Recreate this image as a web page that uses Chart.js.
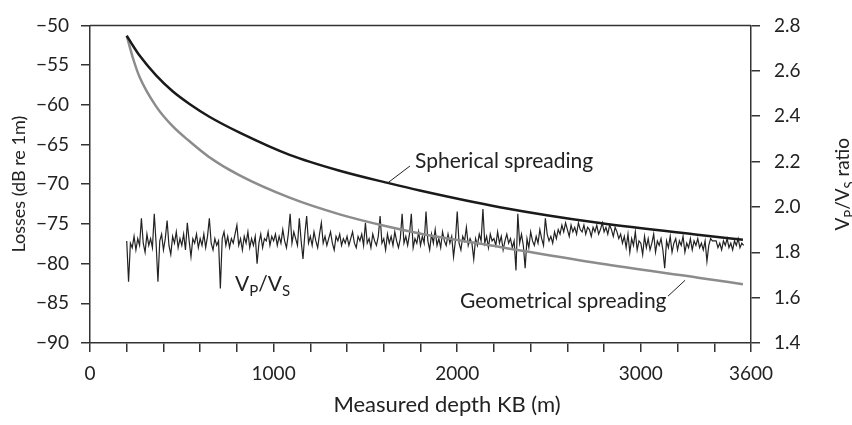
<!DOCTYPE html>
<html>
<head>
<meta charset="utf-8">
<script src="https://cdn.jsdelivr.net/npm/chart.js@4/dist/chart.umd.min.js"></script>
<style>
  html, body { margin: 0; padding: 0; background: #fff; }
  #wrap { width: 852px; height: 425px; }
</style>
</head>
<body>
<div id="wrap"><canvas id="chart"></canvas></div>
<script>
const FONT = 'Lato';
const INK = '#222222';
const AXIS = '#333333';

// losses curves (depth in m, losses in dB re 1m)
const CURVE_DEPTH = [200, 235, 270, 360, 450, 542, 650, 815, 1087, 1360, 1632, 1796, 2232, 2777, 3321, 3556];
const SPHERICAL = [-51.3, -52.6, -53.8, -56.3, -58.3, -59.9, -61.5, -63.5, -66.3, -68.3, -69.9, -70.8, -72.9, -74.9, -76.4, -77.0];
const GEOMETRICAL = [-51.3, -54.2, -56.5, -60.2, -62.7, -64.6, -66.6, -68.9, -71.7, -73.8, -75.4, -76.2, -77.9, -80.0, -81.8, -82.6];

// Vp/Vs log, sampled every 10 m from 200 m
const VPVS_START = 200;
const VPVS_STEP = 10;
const VPVS = [
  1.85, 1.67, 1.84, 1.82, 1.87, 1.81, 1.86, 1.83, 1.95, 1.84,
  1.80, 1.88, 1.83, 1.86, 1.82, 1.97, 1.84, 1.67, 1.85, 1.88,
  1.81, 1.86, 1.94, 1.83, 1.79, 1.87, 1.84, 1.89, 1.82, 1.86,
  1.83, 1.88, 1.81, 1.93, 1.85, 1.78, 1.86, 1.84, 1.88, 1.82,
  1.86, 1.83, 1.88, 1.82, 1.87, 1.95, 1.84, 1.81, 1.86, 1.83,
  1.85, 1.64, 1.86, 1.89, 1.83, 1.87, 1.82, 1.86, 1.84, 1.88,
  1.92, 1.83, 1.86, 1.81, 1.87, 1.84, 1.89, 1.82, 1.86, 1.83,
  1.87, 1.75, 1.84, 1.88, 1.82, 1.86, 1.85, 1.89, 1.83, 1.87,
  1.85, 1.88, 1.83, 1.87, 1.84, 1.90, 1.85, 1.82, 1.88, 1.97,
  1.84, 1.89, 1.86, 1.83, 1.95, 1.85, 1.77, 1.88, 1.96, 1.84,
  1.87, 1.83, 1.89, 1.85, 1.82, 1.88, 1.93, 1.84, 1.87, 1.83,
  1.86, 1.89, 1.84, 1.81, 1.87, 1.85, 1.88, 1.83, 1.86, 1.84,
  1.87, 1.83, 1.86, 1.89, 1.84, 1.82, 1.87, 1.85, 1.88, 1.83,
  1.93, 1.84, 1.86, 1.82, 1.88, 1.85, 1.83, 1.87, 1.96, 1.84,
  1.86, 1.81, 1.88, 1.84, 1.87, 1.83, 1.89, 1.85, 1.82, 1.86,
  1.97, 1.84, 1.87, 1.83, 1.88, 1.97, 1.82, 1.86, 1.84, 1.89,
  1.83, 1.87, 1.84, 1.98, 1.85, 1.81, 1.88, 1.84, 1.90, 1.83,
  1.86, 1.82, 1.89, 1.85, 1.83, 1.88, 1.84, 1.87, 1.78, 1.85,
  1.98, 1.84, 1.81, 1.87, 1.85, 1.91, 1.83, 1.86, 1.84, 1.77,
  1.86, 1.83, 1.88, 1.85, 1.99, 1.84, 1.87, 1.82, 1.88, 1.85,
  1.86, 1.83, 1.89, 1.84, 1.87, 1.81, 1.85, 1.88, 1.84, 1.86,
  1.82, 1.85, 1.72, 1.97, 1.84, 1.88, 1.83, 1.73, 1.86, 1.82,
  1.89, 1.85, 1.83, 1.87, 1.84, 1.90, 1.86, 1.83, 1.95, 1.88,
  1.85, 1.87, 1.84, 1.89, 1.86,
  1.90, 1.88, 1.92, 1.89, 1.93, 1.90, 1.87, 1.92, 1.89, 1.91,
  1.88, 1.93, 1.90, 1.89, 1.92, 1.88, 1.91, 1.90, 1.87, 1.91,
  1.89, 1.92, 1.88, 1.90, 1.93, 1.89, 1.91, 1.88, 1.92, 1.90,
  1.87, 1.91, 1.89, 1.86, 1.88,
  1.84, 1.87, 1.82, 1.88, 1.80, 1.86, 1.83, 1.89, 1.81, 1.85,
  1.84, 1.79, 1.87, 1.82, 1.86, 1.81, 1.84, 1.88, 1.80, 1.85,
  1.83, 1.86, 1.81, 1.73, 1.85, 1.82, 1.87, 1.80, 1.84, 1.86,
  1.81, 1.85, 1.83, 1.87, 1.80, 1.84, 1.82, 1.86, 1.81, 1.85,
  1.83, 1.86, 1.82,
  1.84, 1.81, 1.85, 1.76, 1.83, 1.86, 1.85, 1.85, 1.85, 1.82,
  1.84, 1.81, 1.85, 1.83, 1.86, 1.82, 1.84, 1.81, 1.85, 1.83,
  1.86, 1.82, 1.84, 1.83
];

const X_LABELS = [0, 1000, 2000, 3000, 3600];

const pts = (xs, ys) => ys.map((v, i) => ({ x: xs[i], y: v }));

// text with subscripts: parts like ['V', ['P'], '/', 'V', ['S']]
function richWidth(ctx, parts, size) {
  let w = 0;
  for (const p of parts) {
    const sub = Array.isArray(p);
    ctx.font = `${sub ? Math.round(size * 0.7) : size}px ${FONT}`;
    w += ctx.measureText(sub ? p[0] : p).width;
  }
  return w;
}
function drawRich(ctx, parts, x, y, size) {
  let cx = x;
  for (const p of parts) {
    const sub = Array.isArray(p);
    ctx.font = `${sub ? Math.round(size * 0.7) : size}px ${FONT}`;
    const t = sub ? p[0] : p;
    ctx.fillText(t, cx, sub ? y + size * 0.25 : y);
    cx += ctx.measureText(t).width;
  }
}

const overlay = {
  id: 'overlay',
  afterDraw(chart) {
    const { ctx, chartArea: a, scales: { x, y } } = chart;
    const px = (d) => x.getPixelForValue(d);
    const py = (v) => y.getPixelForValue(v);
    ctx.save();
    ctx.strokeStyle = AXIS;
    ctx.lineWidth = 1.5;
    ctx.beginPath();
    ctx.moveTo(a.left, a.top);
    ctx.lineTo(a.right, a.top);
    ctx.stroke();

    // leader lines
    ctx.strokeStyle = INK;
    ctx.lineWidth = 1;
    ctx.beginPath();
    ctx.moveTo(px(1618), py(-69.9));
    ctx.lineTo(px(1743), py(-67.7));
    ctx.moveTo(px(3148), py(-84.1));
    ctx.lineTo(px(3241), py(-82.1));
    ctx.stroke();

    ctx.fillStyle = INK;
    ctx.textBaseline = 'alphabetic';
    ctx.textAlign = 'left';
    ctx.font = `21px ${FONT}`;
    ctx.fillText('Spherical spreading', px(1770), py(-68.0));
    ctx.fillText('Geometrical spreading', px(2015), py(-85.6));
    drawRich(ctx, ['V', ['P'], '/', 'V', ['S']], px(790), py(-83.4), 21);

    // axis titles
    ctx.font = `22px ${FONT}`;
    ctx.textAlign = 'center';
    ctx.fillText('Measured depth KB (m)', 447, 412);

    ctx.font = `18px ${FONT}`;
    ctx.save();
    ctx.translate(25, (a.top + a.bottom) / 2);
    ctx.rotate(-Math.PI / 2);
    ctx.fillText('Losses (dB re 1m)', 0, 0);
    ctx.restore();

    ctx.save();
    ctx.translate(849, (a.top + a.bottom) / 2);
    ctx.rotate(-Math.PI / 2);
    ctx.textAlign = 'left';
    const parts = ['V', ['P'], '/', 'V', ['S'], ' ratio'];
    drawRich(ctx, parts, -richWidth(ctx, parts, 19) / 2, 0, 19);
    ctx.restore();
    ctx.restore();
  }
};

const tickFont = { family: FONT, size: 19 };

new Chart(document.getElementById('chart'), {
  type: 'line',
  data: {
    datasets: [
      {
        data: pts(CURVE_DEPTH, SPHERICAL),
        yAxisID: 'y',
        borderColor: '#1a1a1a',
        borderWidth: 2.5,
        pointRadius: 0,
        cubicInterpolationMode: 'monotone',
        order: 1,
      },
      {
        data: pts(CURVE_DEPTH, GEOMETRICAL),
        yAxisID: 'y',
        borderColor: '#8c8c8c',
        borderWidth: 2.5,
        pointRadius: 0,
        cubicInterpolationMode: 'monotone',
        order: 2,
      },
      {
        data: VPVS.map((v, i) => ({ x: VPVS_START + i * VPVS_STEP, y: v })),
        yAxisID: 'y2',
        borderColor: '#222222',
        borderWidth: 1.2,
        pointRadius: 0,
        tension: 0,
        order: 3,
      },
    ],
  },
  options: {
    responsive: true,
    maintainAspectRatio: false,
    animation: false,
    layout: { padding: { top: 18, left: 0, right: 0, bottom: 0 } },
    plugins: {
      legend: { display: false },
      tooltip: { enabled: false },
    },
    scales: {
      x: {
        type: 'linear',
        position: 'bottom',
        min: 0,
        max: 3600,
        afterBuildTicks: (s) => {
          const t = [];
          for (let v = 0; v <= 3600; v += 200) t.push({ value: v });
          s.ticks = t;
        },
        afterFit: (s) => { s.height = 82; },
        ticks: {
          autoSkip: false,
          maxRotation: 0,
          font: tickFont,
          color: INK,
          padding: 10,
          callback: (v) => (X_LABELS.includes(v) ? String(v) : ''),
        },
        grid: { drawOnChartArea: false, drawTicks: true, tickLength: 9, color: AXIS, lineWidth: 1.5 },
        border: { color: AXIS, width: 1.5 },
      },
      y: {
        position: 'left',
        min: -90,
        max: -50,
        afterFit: (s) => { s.width = 90; },
        ticks: {
          stepSize: 5,
          font: tickFont,
          color: INK,
          padding: 12,
          callback: (v) => (v < 0 ? '\u2212' : '') + Math.abs(v),
        },
        grid: { drawOnChartArea: false, drawTicks: true, tickLength: 9, color: AXIS, lineWidth: 1.5 },
        border: { color: AXIS, width: 1.5 },
      },
      y2: {
        position: 'right',
        min: 1.4,
        max: 2.8,
        afterFit: (s) => { s.width = 101; },
        ticks: {
          stepSize: 0.2,
          font: tickFont,
          color: INK,
          padding: 14,
          callback: (v) => v.toFixed(1),
        },
        grid: { drawOnChartArea: false, drawTicks: true, tickLength: 9, color: AXIS, lineWidth: 1.5 },
        border: { color: AXIS, width: 1.5 },
      },
    },
  },
  plugins: [overlay],
});
</script>
</body>
</html>
